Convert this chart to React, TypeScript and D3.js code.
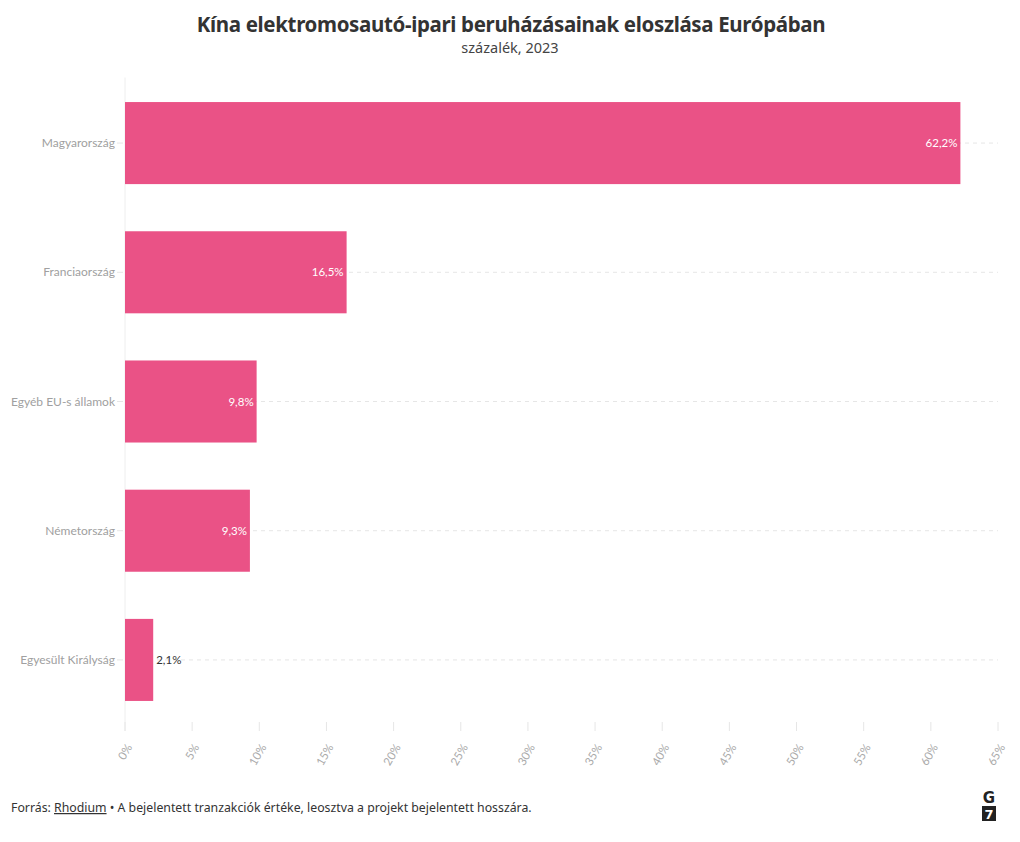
import React from 'react';
import * as d3 from 'd3';

const countries = ['Magyarország', 'Franciaország', 'Egyéb EU-s államok', 'Németország', 'Egyesült Királyság'];
const shares = [62.2, 16.5, 9.8, 9.3, 2.1];
const xTicks = [0, 5, 10, 15, 20, 25, 30, 35, 40, 45, 50, 55, 60, 65];

const W = 1020;
const H = 842;
const margin = { top: 77.5, right: 22, bottom: 116.5, left: 125 };
const FONT = 'Lato, "Open Sans", sans-serif';
const TITLE_FONT = '"Noto Sans", "Open Sans", sans-serif';
const BAR = '#ea5286';

const App: React.FC = () => {
  const x = d3.scaleLinear().domain([0, 65]).range([margin.left, W - margin.right]);
  const y = d3.scaleBand<string>()
    .domain(countries)
    .range([margin.top, H - margin.bottom])
    .paddingInner(0.365)
    .paddingOuter(0.19);
  const fmt = (v: number) => d3.format('.1f')(v).replace('.', ',') + '%';
  const axisY = 731;

  return (
    <svg width={W} height={H} style={{ display: 'block', margin: -8, background: '#fff' }}>
      <text x={W / 2 + 1} y={32} textAnchor="middle" fontFamily={TITLE_FONT} fontWeight={700}
        fontSize={20.5} fill="#333" letterSpacing={-0.35}>
        Kína elektromosautó-ipari beruházásainak eloszlása Európában
      </text>
      <text x={W / 2} y={53} textAnchor="middle" fontFamily={TITLE_FONT} fontSize={14.5} fill="#444">
        százalék, 2023
      </text>

      {/* grid lines */}
      {countries.map(c => (
        <line key={'g' + c} x1={margin.left} x2={W - margin.right}
          y1={y(c)! + y.bandwidth() / 2} y2={y(c)! + y.bandwidth() / 2}
          stroke="#e6e6e6" strokeDasharray="4,4" />
      ))}
      {/* y axis line */}
      <line x1={margin.left} x2={margin.left} y1={margin.top} y2={axisY} stroke="#eee" />

      {/* bars */}
      {countries.map((c, i) => (
        <rect key={c} x={x(0)} y={y(c)} width={x(shares[i]) - x(0)} height={y.bandwidth()} fill={BAR} />
      ))}

      {/* value labels */}
      {countries.map((c, i) => {
        const inside = x(shares[i]) - x(0) > 40;
        return (
          <text key={'v' + c} x={inside ? x(shares[i]) - 3 : x(shares[i]) + 3}
            y={y(c)! + y.bandwidth() / 2} dy="0.35em" textAnchor={inside ? 'end' : 'start'}
            fontFamily={FONT} fontSize={11.5} fill={inside ? '#fff' : '#333'}>
            {fmt(shares[i])}
          </text>
        );
      })}

      {/* y labels */}
      {countries.map(c => (
        <g key={'l' + c}>
          <line x1={margin.left - 8} x2={margin.left - 2} y1={y(c)! + y.bandwidth() / 2}
            y2={y(c)! + y.bandwidth() / 2} stroke="#e6e6e6" />
          <text x={margin.left - 10} y={y(c)! + y.bandwidth() / 2} dy="0.35em" textAnchor="end"
            fontFamily={FONT} fontSize={12} fill="#a0a0a0">{c}</text>
        </g>
      ))}

      {/* x ticks */}
      {xTicks.map(t => (
        <g key={'t' + t} transform={`translate(${x(t)},${axisY})`}>
          <line y1={-9} y2={0} stroke="#e6e6e6" />
          <text transform="translate(4,14) rotate(-60)" textAnchor="end" dy="0.35em"
            fontFamily={FONT} fontSize={11.5} fill="#aaa">{t + '%'}</text>
        </g>
      ))}

      {/* footer */}
      <text x={11} y={812} fontFamily={TITLE_FONT} fontSize={12.3} fill="#333">
        Forrás: <tspan textDecoration="underline">Rhodium</tspan> • A bejelentett tranzakciók értéke, leosztva a projekt bejelentett hosszára.
      </text>
      <text x={989} y={803} textAnchor="middle" fontFamily='"DejaVu Sans", sans-serif' fontWeight={700}
        fontSize={15} fill="#222">G</text>
      <rect x={982} y={806} width={14} height={15} fill="#222" />
      <text x={989} y={819} textAnchor="middle" fontFamily='"DejaVu Sans", sans-serif' fontWeight={700}
        fontSize={13} fill="#fff">7</text>
    </svg>
  );
};

export default App;
